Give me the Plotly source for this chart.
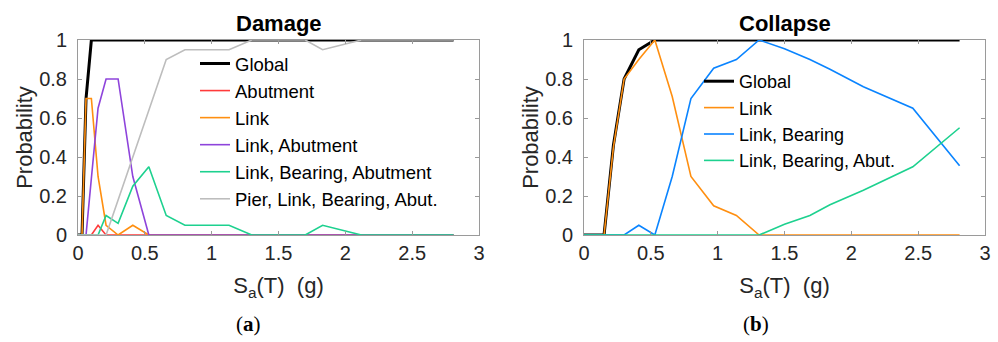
import plotly.graph_objects as go

# ---------------- data: (a) Damage ----------------
sa_dmg = [0, 0.03, 0.06, 0.10, 0.15, 0.21, 0.30, 0.41, 0.53, 0.66, 0.80, 0.97,
          1.13, 1.30, 1.50, 1.70, 1.83, 2.12, 2.46, 2.81]
dmg_global = [0, 0, 0.70, 1, 1, 1, 1, 1, 1, 1, 1, 1, 1, 1, 1, 1, 1, 1, 1, 1]
dmg_abutment = [0, 0, 0, 0, 0.05, 0, 0, 0, 0, 0, 0, 0, 0, 0, 0, 0, 0, 0, 0, 0]
dmg_link = [0, 0, 0.70, 0.70, 0.30, 0.05, 0, 0.05, 0, 0, 0, 0, 0, 0, 0, 0, 0, 0, 0, 0]
dmg_link_abut = [0, 0, 0, 0.29, 0.65, 0.80, 0.80, 0.30, 0, 0, 0, 0, 0, 0, 0, 0, 0, 0, 0, 0]
dmg_link_bear_abut = [0, 0, 0, 0, 0, 0.10, 0.06, 0.25, 0.35, 0.10, 0.05, 0.05,
                      0.05, 0, 0, 0, 0.05, 0, 0, 0]
dmg_pier_all = [0, 0, 0, 0, 0, 0, 0.18, 0.40, 0.64, 0.90, 0.95, 0.95,
                0.95, 1, 1, 1, 0.95, 1, 1, 1]

# ---------------- data: (b) Collapse ----------------
sa_col = [0, 0.15, 0.22, 0.30, 0.41, 0.53, 0.66, 0.80, 0.97, 1.14, 1.31, 1.50,
          1.69, 1.84, 2.09, 2.46, 2.81]
col_global = [0, 0, 0.46, 0.80, 0.95, 1, 1, 1, 1, 1, 1, 1, 1, 1, 1, 1, 1]
col_link = [0, 0, 0.45, 0.80, 0.90, 1.0, 0.71, 0.30, 0.15, 0.10, 0, 0, 0, 0, 0, 0, 0]
col_link_bear = [0, 0, 0, 0, 0.05, 0, 0.30, 0.70, 0.855, 0.90, 1.0, 0.955,
                 0.90, 0.85, 0.76, 0.65, 0.355]
col_link_bear_abut = [0, 0, 0, 0, 0, 0, 0, 0, 0, 0, 0, 0.055, 0.10, 0.155, 0.23, 0.35, 0.55]

x_ticks = [0, 0.5, 1, 1.5, 2, 2.5, 3]
x_ticklabels = ["0", "0.5", "1", "1.5", "2", "2.5", "3"]
y_ticks = [0, 0.2, 0.4, 0.6, 0.8, 1]
y_ticklabels = ["0", "0.2", "0.4", "0.6", "0.8", "1"]

C_BLACK = "#000000"
C_RED = "#FF3B3B"
C_ORANGE = "#FF8F10"
C_PURPLE = "#8E44DB"
C_GREEN = "#1DD18F"
C_GRAY = "#BDBDBD"
C_BLUE = "#0A84FF"

FONT = "Liberation Sans, Arial, sans-serif"
TXT = "#262626"
W = 998
H = 342

fig = go.Figure()

dmg_series = [
    ("Global", dmg_global, C_BLACK, 3),
    ("Abutment", dmg_abutment, C_RED, 1.6),
    ("Link", dmg_link, C_ORANGE, 1.6),
    ("Link, Abutment", dmg_link_abut, C_PURPLE, 1.6),
    ("Link, Bearing, Abutment", dmg_link_bear_abut, C_GREEN, 1.6),
    ("Pier, Link, Bearing, Abut.", dmg_pier_all, C_GRAY, 1.6),
]
for name, vals, col, lw in dmg_series:
    fig.add_trace(go.Scatter(x=sa_dmg, y=vals, mode="lines", name=name,
                             line=dict(color=col, width=lw),
                             xaxis="x", yaxis="y", legend="legend",
                             cliponaxis=False))

col_series = [
    ("Global", col_global, C_BLACK, 3),
    ("Link", col_link, C_ORANGE, 1.6),
    ("Link, Bearing", col_link_bear, C_BLUE, 1.6),
    ("Link, Bearing, Abut.", col_link_bear_abut, C_GREEN, 1.6),
]
for name, vals, col, lw in col_series:
    fig.add_trace(go.Scatter(x=sa_col, y=vals, mode="lines", name=name,
                             line=dict(color=col, width=lw),
                             xaxis="x2", yaxis="y2", legend="legend2",
                             cliponaxis=False))

ydom = [1 - 235 / H, 1 - 40 / H]


def xax(dom, anchor):
    return dict(domain=dom, range=[0, 3], tickvals=x_ticks, ticktext=x_ticklabels,
                anchor=anchor, automargin=False,
                showgrid=False, zeroline=False, showline=True, linecolor="#9a9a9a",
                linewidth=1, mirror="ticks", ticks="inside", ticklen=4,
                tickcolor="#9a9a9a", tickfont=dict(family=FONT, size=20, color=TXT),
                title=dict(text="S<sub>a</sub>(T) \u00a0(g)", standoff=14,
                           font=dict(family=FONT, size=22, color=TXT)))


def yax(anchor):
    return dict(domain=ydom, range=[0, 1], tickvals=y_ticks, ticktext=y_ticklabels,
                anchor=anchor, automargin=False, showgrid=False, zeroline=False,
                showline=True, linecolor="#9a9a9a", linewidth=1, mirror="ticks",
                ticks="inside", ticklen=4, tickcolor="#9a9a9a", ticklabelstandoff=6,
                tickfont=dict(family=FONT, size=20, color=TXT),
                title=dict(text="Probability", standoff=0,
                           font=dict(family=FONT, size=22, color=TXT)))


fig.update_layout(
    width=W, height=H,
    margin=dict(l=0, r=0, t=0, b=0, autoexpand=False),
    paper_bgcolor="white", plot_bgcolor="white",
    font=dict(family=FONT, color=TXT),
    xaxis=xax([78 / W, 479 / W], "y"),
    yaxis=yax("x"),
    xaxis2=xax([584 / W, 985 / W], "y2"),
    yaxis2=yax("x2"),
    legend=dict(x=195 / W, y=1 - 45 / H, xanchor="left", yanchor="top",
                bgcolor="rgba(0,0,0,0)", borderwidth=0, tracegroupgap=0,
                font=dict(family=FONT, size=18.5, color="#000000")),
    legend2=dict(x=699 / W, y=1 - 63 / H, xanchor="left", yanchor="top",
                 bgcolor="rgba(0,0,0,0)", borderwidth=0, tracegroupgap=0,
                 font=dict(family=FONT, size=18, color="#000000")),
    annotations=[
        dict(text="<b>Damage</b>", x=(78 + 479) / 2 / W, y=1 - 23 / H, xref="paper",
             yref="paper", xanchor="center", yanchor="middle", showarrow=False,
             font=dict(family=FONT, size=22, color="#000")),
        dict(text="<b>Collapse</b>", x=(584 + 985) / 2 / W, y=1 - 23 / H, xref="paper",
             yref="paper", xanchor="center", yanchor="middle", showarrow=False,
             font=dict(family=FONT, size=22, color="#000")),
        dict(text="(<b>a</b>)", x=248 / W, y=1 - 324 / H, xref="paper", yref="paper",
             xanchor="center", yanchor="middle", showarrow=False,
             font=dict(family="Liberation Serif, serif", size=21, color="#000")),
        dict(text="(<b>b</b>)", x=756 / W, y=1 - 324 / H, xref="paper", yref="paper",
             xanchor="center", yanchor="middle", showarrow=False,
             font=dict(family="Liberation Serif, serif", size=21, color="#000")),
    ],
)

fig.write_html("out.html", config={"displayModeBar": False},
               post_script="document.body.style.margin='0px';"
                           "document.body.style.overflow='hidden';")
